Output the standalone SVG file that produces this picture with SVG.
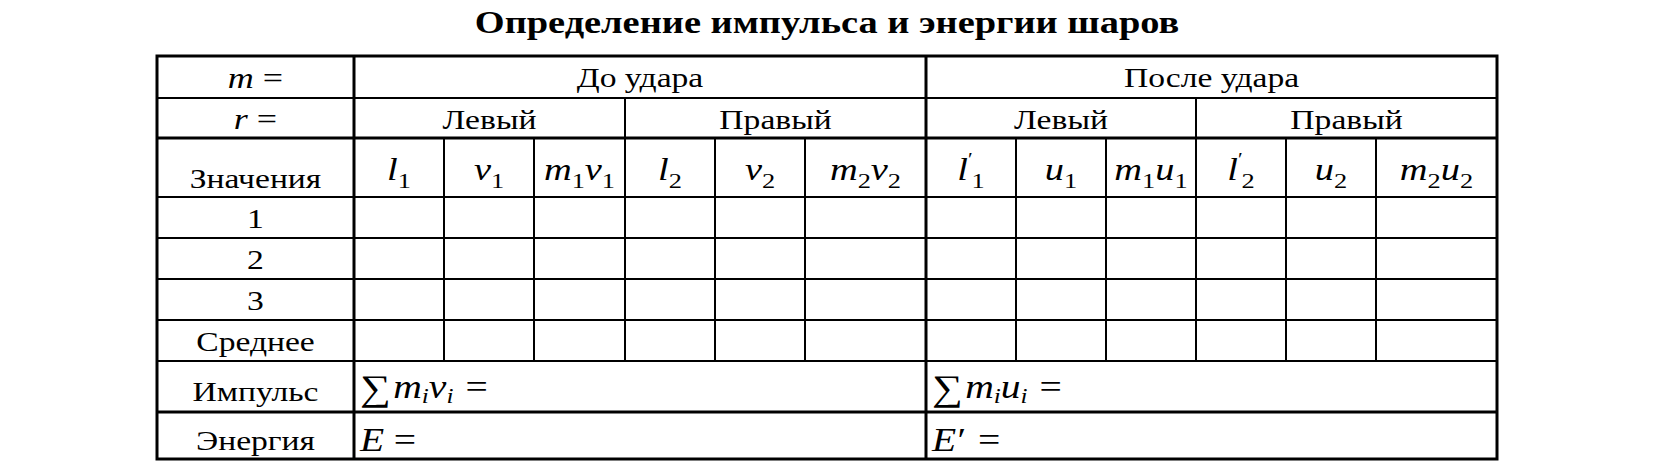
<svg xmlns="http://www.w3.org/2000/svg" width="1654" height="470" viewBox="0 0 1654 470">
<style>
.bg{fill:#fff}
.thin{stroke:#000;stroke-width:2;fill:none}
.thick{stroke:#000;stroke-width:3;fill:none}
.t{font-family:"Liberation Serif","Times New Roman",serif;font-size:28px;text-anchor:middle;fill:#000}
.ttl{font-family:"Liberation Serif","Times New Roman",serif;font-size:32px;font-weight:bold;text-anchor:middle;fill:#000}
.m{font-family:"Liberation Serif","Times New Roman",serif;font-style:italic;font-size:32px;text-anchor:middle;fill:#000}
.ml{font-family:"Liberation Serif","Times New Roman",serif;font-style:italic;font-size:30px;fill:#000}
.mb{font-family:"Liberation Serif","Times New Roman",serif;font-style:italic;font-size:33px;fill:#000}
.sub{font-style:normal;font-size:22px}
.isub{font-size:21px}
.up{font-style:normal}
.sum{font-style:normal;font-size:36px}
</style>
<rect class="bg" x="0" y="0" width="1654" height="470"/>
<g id="title"><text class="ttl" transform="translate(827,33) scale(1.2,1)">Определение импульса и энергии шаров</text></g>
<g id="table-lines">
<path class="thin" d="M157 98H1497M157 197H1497M157 238H1497M157 279H1497M157 320H1497M157 361H1497"/>
<path class="thick" d="M157 138H1497M157 412H1497M354 56V459M926 56V459"/>
<path class="thin" d="M625 98V361M1196 98V361M444 138V361M534 138V361M715 138V361M805 138V361M1016 138V361M1106 138V361M1286 138V361M1376 138V361"/>
<rect class="thick" x="157" y="56" width="1340" height="403"/>
</g>
<g id="header-row1">
<text class="ml" transform="translate(255.5,88) scale(1.2,1)" text-anchor="middle">m <tspan class="up">=</tspan></text>
<text class="t" transform="translate(640,87) scale(1.2,1)">До удара</text>
<text class="t" transform="translate(1211.5,87) scale(1.2,1)">После удара</text>
</g>
<g id="header-row2">
<text class="ml" transform="translate(255.5,129) scale(1.2,1)" text-anchor="middle">r <tspan class="up">=</tspan></text>
<text class="t" transform="translate(489.5,129) scale(1.2,1)">Левый</text>
<text class="t" transform="translate(775.5,129) scale(1.2,1)">Правый</text>
<text class="t" transform="translate(1061,129) scale(1.2,1)">Левый</text>
<text class="t" transform="translate(1346.5,129) scale(1.2,1)">Правый</text>
</g>
<g id="header-row3">
<text class="t" transform="translate(255.5,188) scale(1.2,1)">Значения</text>
<text class="m" transform="translate(399,180) scale(1.2,1)">l<tspan class="sub" dy="8">1</tspan></text>
<text class="m" transform="translate(489,180) scale(1.2,1)">v<tspan class="sub" dy="8">1</tspan></text>
<text class="m" transform="translate(579.5,180) scale(1.2,1)">m<tspan class="sub" dy="8">1</tspan><tspan dy="-8">v</tspan><tspan class="sub" dy="8">1</tspan></text>
<text class="m" transform="translate(670,180) scale(1.2,1)">l<tspan class="sub" dy="8">2</tspan></text>
<text class="m" transform="translate(760,180) scale(1.2,1)">v<tspan class="sub" dy="8">2</tspan></text>
<text class="m" transform="translate(865.5,180) scale(1.2,1)">m<tspan class="sub" dy="8">2</tspan><tspan dy="-8">v</tspan><tspan class="sub" dy="8">2</tspan></text>
<text class="m" transform="translate(971,180) scale(1.2,1)">l<tspan class="up" font-size="18" dy="-14">′</tspan><tspan class="sub" dx="-1" dy="22">1</tspan></text>
<text class="m" transform="translate(1061,180) scale(1.2,1)">u<tspan class="sub" dy="8">1</tspan></text>
<text class="m" transform="translate(1151,180) scale(1.2,1)">m<tspan class="sub" dy="8">1</tspan><tspan dy="-8">u</tspan><tspan class="sub" dy="8">1</tspan></text>
<text class="m" transform="translate(1241,180) scale(1.2,1)">l<tspan class="up" font-size="18" dy="-14">′</tspan><tspan class="sub" dx="-1" dy="22">2</tspan></text>
<text class="m" transform="translate(1331,180) scale(1.2,1)">u<tspan class="sub" dy="8">2</tspan></text>
<text class="m" transform="translate(1436.5,180) scale(1.2,1)">m<tspan class="sub" dy="8">2</tspan><tspan dy="-8">u</tspan><tspan class="sub" dy="8">2</tspan></text>
</g>
<g id="rows">
<text class="t" transform="translate(255.5,228) scale(1.2,1)">1</text>
<text class="t" transform="translate(255.5,269) scale(1.2,1)">2</text>
<text class="t" transform="translate(255.5,310) scale(1.2,1)">3</text>
<text class="t" transform="translate(255.5,351) scale(1.2,1)">Среднее</text>
</g>
<g id="impulse-row">
<text class="t" transform="translate(255.5,401) scale(1.2,1)">Импульс</text>
<text class="mb" transform="translate(360,398) scale(1.2,1)"><tspan class="sum" dy="2">∑</tspan><tspan dx="2" dy="-2">m</tspan><tspan class="isub" dy="5">i</tspan><tspan dy="-5">v</tspan><tspan class="isub" dy="5">i</tspan><tspan class="up" dx="10" dy="-5">=</tspan></text>
<text class="mb" transform="translate(932,398) scale(1.2,1)"><tspan class="sum" dy="2">∑</tspan><tspan dx="2" dy="-2">m</tspan><tspan class="isub" dy="5">i</tspan><tspan dy="-5">u</tspan><tspan class="isub" dy="5">i</tspan><tspan class="up" dx="10" dy="-5">=</tspan></text>
</g>
<g id="energy-row">
<text class="t" transform="translate(255.5,450) scale(1.2,1)">Энергия</text>
<text class="mb" transform="translate(360,451) scale(1.2,1)">E<tspan class="up" dx="8">=</tspan></text>
<text class="mb" transform="translate(932,451) scale(1.2,1)">E<tspan class="up" dx="1">′</tspan><tspan class="up" dx="10">=</tspan></text>
</g>
</svg>
